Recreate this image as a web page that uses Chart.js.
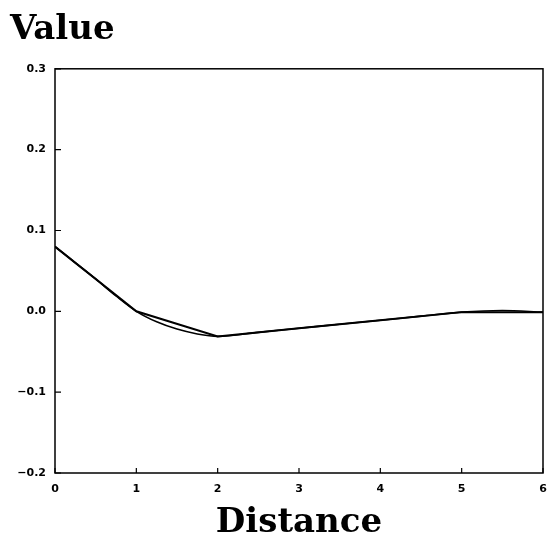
<!DOCTYPE html>
<html>
<head>
<meta charset="utf-8">
<script src="https://cdn.jsdelivr.net/npm/chart.js@4"></script>
<style>
  html, body { margin: 0; padding: 0; background: #fff; }
  canvas { display: block; }
</style>
</head>
<body>
<canvas id="chart" width="557" height="556"></canvas>
<script>
// 数据：折线（整数距离点）与平滑曲线
const distance = [0, 1, 2, 3, 4, 5, 6];
const linearValues = [0.08, 0.0, -0.031, -0.021, -0.011, -0.001, -0.001];

const smoothDistance = [0, 0.25, 0.5, 0.75, 1, 1.25, 1.5, 1.75, 2, 2.5, 3, 3.5, 4, 4.5, 5, 5.5, 6];
const smoothValues = [0.08, 0.06, 0.04, 0.019, 0.0, -0.013, -0.022, -0.028, -0.031, -0.026, -0.021, -0.016, -0.011, -0.006, -0.001, 0.001, -0.001];

const xTicks = [0, 1, 2, 3, 4, 5, 6];
const yTicks = [-0.2, -0.1, 0.0, 0.1, 0.2, 0.3];

const toPoints = (xs, ys) => xs.map((x, i) => ({ x: x, y: ys[i] }));

// 画外框和朝内的刻度线
const framePlugin = {
  id: 'frame',
  afterDraw(chart) {
    const { ctx, chartArea: a, scales } = chart;
    ctx.save();
    ctx.strokeStyle = '#000';
    ctx.lineWidth = 1.5;
    ctx.strokeRect(a.left, a.top, a.right - a.left, a.bottom - a.top);
    ctx.lineWidth = 1.2;
    ctx.beginPath();
    xTicks.forEach(v => {
      const px = scales.x.getPixelForValue(v);
      ctx.moveTo(px, a.bottom);
      ctx.lineTo(px, a.bottom - 5);
    });
    yTicks.forEach(v => {
      const py = scales.y.getPixelForValue(v);
      ctx.moveTo(a.left, py);
      ctx.lineTo(a.left + 6, py);
    });
    ctx.stroke();
    ctx.restore();
  }
};

const tickFont = { family: '"DejaVu Sans", sans-serif', size: 11, weight: 'bold' };
const titleFont = { family: '"DejaVu Serif", "Liberation Serif", serif', size: 34, weight: 'bold' };

new Chart(document.getElementById('chart'), {
  type: 'line',
  data: {
    datasets: [
      {
        data: toPoints(distance, linearValues),
        borderColor: '#000',
        borderWidth: 2,
        pointRadius: 0,
        tension: 0
      },
      {
        data: toPoints(smoothDistance, smoothValues),
        borderColor: '#000',
        borderWidth: 1.6,
        pointRadius: 0,
        cubicInterpolationMode: 'monotone'
      }
    ]
  },
  options: {
    responsive: false,
    animation: false,
    layout: { padding: { left: 10, right: 14, top: 0, bottom: 0 } },
    plugins: {
      legend: { display: false },
      tooltip: { enabled: false },
      title: {
        display: true,
        text: 'Value',
        align: 'start',
        color: '#000',
        font: titleFont,
        padding: { top: 10, bottom: 18 }
      }
    },
    scales: {
      x: {
        type: 'linear',
        min: 0,
        max: 6,
        afterBuildTicks: s => { s.ticks = xTicks.map(v => ({ value: v })); },
        afterFit: s => { s.height = 83; },
        grid: { display: false, drawTicks: false },
        border: { display: false },
        ticks: {
          color: '#000',
          font: tickFont,
          padding: 10,
          maxRotation: 0,
          callback: v => String(v)
        },
        title: {
          display: true,
          text: 'Distance',
          color: '#000',
          font: titleFont,
          padding: { top: 0, bottom: 12 }
        }
      },
      y: {
        type: 'linear',
        min: -0.2,
        max: 0.3,
        afterBuildTicks: s => { s.ticks = yTicks.map(v => ({ value: v })); },
        afterFit: s => { s.width = 45; },
        grid: { display: false, drawTicks: false },
        border: { display: false },
        ticks: {
          color: '#000',
          font: tickFont,
          padding: 9,
          callback: v => (v < 0 ? '\u2212' : '') + Math.abs(v).toFixed(1)
        }
      }
    }
  },
  plugins: [framePlugin]
});
</script>
</body>
</html>
